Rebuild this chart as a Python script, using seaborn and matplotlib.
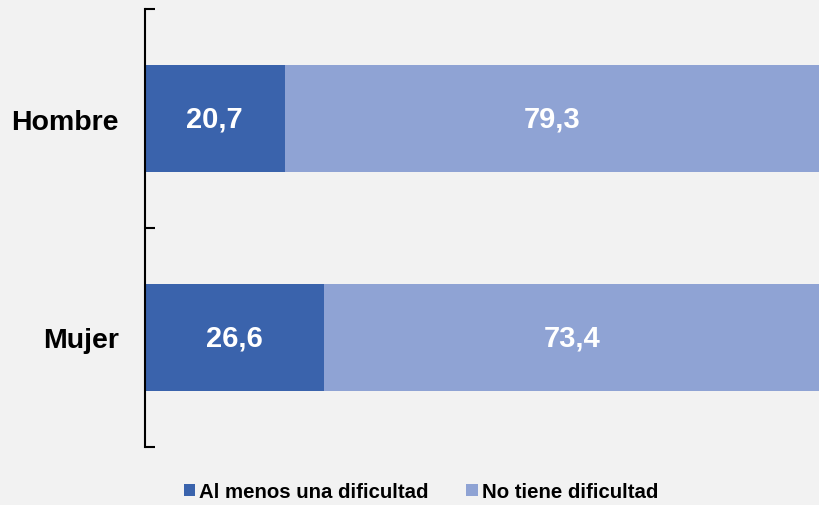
import matplotlib
matplotlib.use("Agg")
import matplotlib.pyplot as plt
import seaborn as sns
import pandas as pd
from matplotlib.patches import Patch

categories = ["Hombre", "Mujer"]
al_menos_una = [20.7, 26.6]
no_tiene = [79.3, 73.4]
series_names = ["Al menos una dificultad", "No tiene dificultad"]
colors = ["#3A63AC", "#8FA3D4"]
bg = "#F2F2F2"

sns.set_theme(style="white")
plt.rcParams["font.family"] = ["Liberation Sans", "DejaVu Sans"]
plt.rcParams["text.color"] = "black"
plt.rcParams["ytick.color"] = "black"

df = pd.DataFrame({"sexo": categories, "a": al_menos_una, "b": no_tiene})
df["total"] = df["a"] + df["b"]

fig = plt.figure(figsize=(8.19, 5.06), dpi=100, facecolor=bg)
ax = fig.add_axes([145 / 819, 58 / 506, 1 - 145 / 819, 438 / 506])
ax.set_facecolor(bg)

# stacked: full bar in light colour, first segment on top
sns.barplot(data=df, x="total", y="sexo", color=colors[1], width=0.49,
            saturation=1, ax=ax, orient="h", linewidth=0)
sns.barplot(data=df, x="a", y="sexo", color=colors[0], width=0.49,
            saturation=1, ax=ax, orient="h", linewidth=0)

for i, (a, b) in enumerate(zip(al_menos_una, no_tiene)):
    ax.text(a / 2, i, f"{a:.1f}".replace(".", ","), ha="center", va="center",
            color="white", fontsize=21, fontweight="bold")
    ax.text(a + b / 2, i, f"{b:.1f}".replace(".", ","), ha="center", va="center",
            color="white", fontsize=21, fontweight="bold")

ax.set_xlim(0, 100)
ax.set_ylim(1.5, -0.5)
ax.set_xlabel("")
ax.set_ylabel("")
ax.set_xticks([])

for s in ["top", "right", "bottom"]:
    ax.spines[s].set_visible(False)
ax.spines["left"].set_color("black")
ax.spines["left"].set_linewidth(1.5)

ax.set_yticks([-0.5, 0.5, 1.5])
ax.set_yticklabels([])
ax.tick_params(axis="y", which="major", direction="in", length=7, width=1.5, color="black", left=True)
ax.set_yticks([0, 1], minor=True)
ax.set_yticklabels(categories, minor=True, fontsize=20.5, fontweight="bold", color="black")
ax.tick_params(axis="y", which="minor", length=0, pad=19)

handles = [Patch(facecolor=c, edgecolor="none") for c in colors]
fig.legend(handles, series_names, loc="lower center", bbox_to_anchor=(0.514, -0.029),
           ncol=2, frameon=False, handlelength=0.55, handleheight=0.55,
           handletextpad=0.2, columnspacing=1.85,
           prop={"weight": "bold", "size": 14.7})

fig.savefig("out.png", dpi=100, facecolor=bg)
